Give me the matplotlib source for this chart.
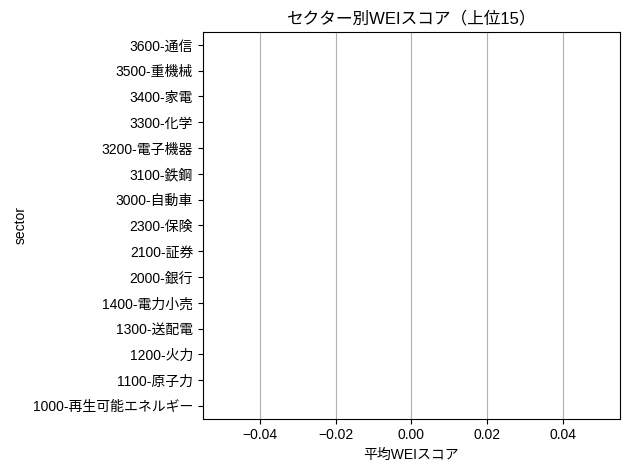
import matplotlib
matplotlib.use("Agg")
import matplotlib.pyplot as plt

plt.rcParams['font.family'] = ['Liberation Sans', 'Noto Sans CJK JP', 'DejaVu Sans']

sectors = ["3600-通信", "3500-重機械", "3400-家電", "3300-化学", "3200-電子機器",
           "3100-鉄鋼", "3000-自動車", "2300-保険", "2100-証券", "2000-銀行",
           "1400-電力小売", "1300-送配電", "1200-火力", "1100-原子力", "1000-再生可能エネルギー"]
scores = [0.0] * 15

fig, ax = plt.subplots(figsize=(6.3, 4.7), dpi=100)
ypos = list(range(len(sectors)))
ax.barh(ypos, scores, height=0.8, color="#4c72b0")
ax.set_yticks(ypos)
ax.set_yticklabels(sectors)
ax.set_ylim(len(sectors) - 0.5, -0.5)
ax.grid(axis='x', color='#b0b0b0', linewidth=0.8)
ax.set_axisbelow(True)
ax.set_xlabel("平均WEIスコア")
ax.set_ylabel("sector")
ax.set_title("セクター別WEIスコア（上位15）")
fig.subplots_adjust(left=0.322, right=0.984, top=0.932, bottom=0.109)
fig.savefig("out.png")
